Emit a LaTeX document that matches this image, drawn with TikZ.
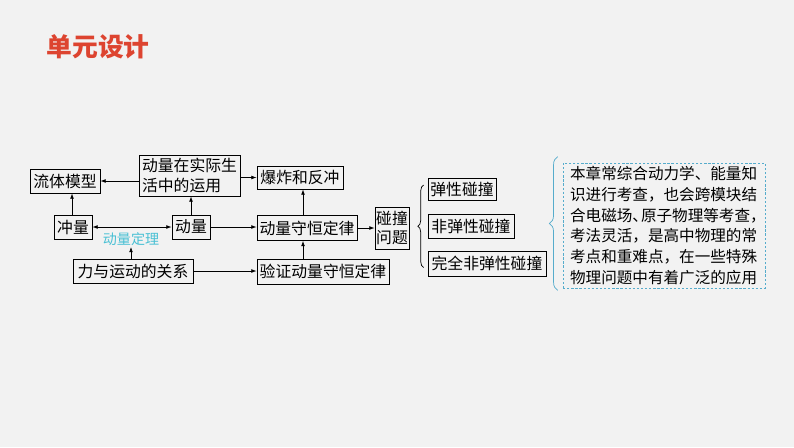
\documentclass[tikz,border=0pt]{standalone}
\usepackage{fontspec}
\newfontfamily\cjk{Noto Sans CJK SC}
\usetikzlibrary{arrows.meta,positioning,calc,decorations.pathreplacing}
\definecolor{bgc}{RGB}{242,242,242}
\definecolor{ttlred}{RGB}{221,68,48}
\definecolor{thmc}{RGB}{72,192,212}
\definecolor{notec}{RGB}{86,172,204}
\tikzset{
  blk/.style={draw,rectangle,line width=0.6pt,inner sep=1pt,minimum height=0.72cm,font=\cjk\fontsize{13.5}{16.6}\selectfont,align=left},
  arr/.style={-{Latex[length=4.5pt,width=3.2pt]},line width=0.6pt},
  darr/.style={{Latex[length=4.5pt,width=3.2pt]}-{Latex[length=4.5pt,width=3.2pt]},line width=0.6pt},
  brc/.style={decorate,decoration={brace,amplitude=5pt},line width=0.6pt},
  lbl/.style={font=\cjk\fontsize{12}{14}\selectfont,text=thmc,inner sep=1pt},
  notebox/.style={draw=notec,dash pattern=on 2pt off 1.5pt,line width=0.6pt,rectangle,minimum width=6.06cm,minimum height=3.75cm,inner sep=0pt}
}
\begin{document}
\begin{tikzpicture}[x=0.03cm,y=-0.03cm]
  \fill[bgc] (0,0) rectangle (794,447);
  \useasboundingbox (0,0) rectangle (794,447);
  % Title
  \node[font=\cjk\bfseries\fontsize{22}{26}\selectfont,text=ttlred] (title) at (98,47) {单元设计};

  % Top row
  \node[blk,minimum width=2.1cm] (flow) at (65,181) {流体模型};
  \node[blk,minimum width=3.03cm,minimum height=1.23cm] (apply) at (189.5,175.5) {动量在实际生\\活中的运用};
  \node[blk,minimum width=2.58cm,minimum height=0.69cm] (blast) at (300,177.5) {爆炸和反冲};

  % Middle row
  \node[blk,minimum width=1.14cm] (impulse) at (73,227) {冲量};
  \node[blk,minimum width=1.14cm] (mom) at (191,227) {动量};
  \node[blk,minimum width=3.0cm,minimum height=0.75cm] (cons) at (307,228) {动量守恒定律};
  \node[lbl] (thm) at (131,239) {动量定理};

  % Bottom row
  \node[blk,minimum width=3.6cm] (force) at (133,271) {力与运动的关系};
  \node[blk,minimum width=3.96cm,minimum height=0.75cm] (verify) at (323,271.5) {验证动量守恒定律};

  % Collisions
  \node[blk,minimum width=1.02cm,minimum height=1.26cm] (coll) at (392,228) {碰撞\\问题};
  \node[blk,minimum width=2.04cm,minimum height=0.66cm] (el) at (462,189) {弹性碰撞};
  \node[blk,minimum width=2.58cm] (inel) at (471,226) {非弹性碰撞};
  \node[blk,minimum width=3.54cm,minimum height=0.75cm] (perf) at (487,263.5) {完全非弹性碰撞};

  % Connections
  \draw[arr] (apply.west |- flow) -- (flow.east);
  \draw[arr] (apply.east |- blast) -- (blast.west);
  \draw[arr] (impulse.north -| 72,0) -- (flow.south -| 72,0);
  \draw[arr] (mom.north) -- (mom.north |- apply.south);
  \draw[darr] (impulse.east) -- (mom.west);
  \draw[arr] (force.north -| thm) -- (thm.south);
  \draw[arr] (mom.east) -- (mom.east -| cons.west);
  \draw[arr] (force.east) -- (force.east -| verify.west);
  \draw[arr] (cons.north -| 303,0) -- (blast.south -| 303,0);
  \draw[arr] (verify.north -| 303,0) -- (cons.south -| 303,0);
  \draw[arr] (cons.east) -- (cons.east -| coll.west);
  \draw[brc] ($(perf.west)+(-4,4)$) -- ($(el.west)+(-4,-4)$);

  % Note
  \node[notebox] (note) at (664,225.5) {};
  \node[font=\cjk\fontsize{13.3}{17.7}\selectfont,align=left,inner sep=0pt] (notetxt) at (note.center)
    {本章常综合动力学、能量知\\识进行考查，也会跨模块结\\合电磁场、\kern-0.45em原子物理等考查，\kern-0.5em\\考法灵活，是高中物理的常\\考点和重难点，在一些特殊\\物理问题中有着广泛的应用};
  \draw[brc,draw=notec,decoration={amplitude=7pt}] ($(note.south west)+(-5,2)$) -- ($(note.north west)+(-5,-6)$);
\end{tikzpicture}
\end{document}
